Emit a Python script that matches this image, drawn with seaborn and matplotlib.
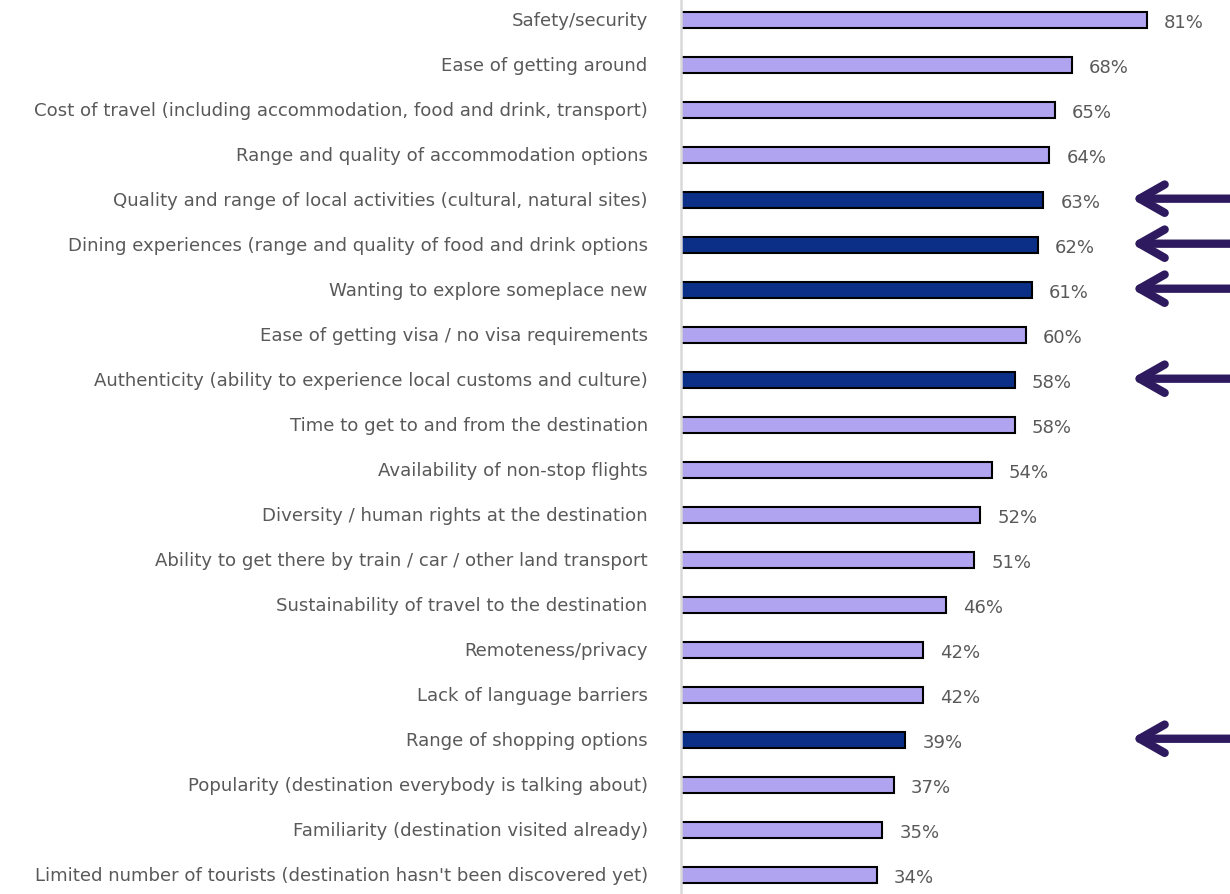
import matplotlib
matplotlib.use('Agg')
import matplotlib.pyplot as plt
import matplotlib.transforms as mtransforms
import seaborn as sns
import pandas as pd

# Chart data (top to bottom)
categories = [
    'Safety/security',
    'Ease of getting around',
    'Cost of travel (including accommodation, food and drink, transport)',
    'Range and quality of accommodation options',
    'Quality and range of local activities (cultural, natural sites)',
    'Dining experiences (range and quality of food and drink options',
    'Wanting to explore someplace new',
    'Ease of getting visa / no visa requirements',
    'Authenticity (ability to experience local customs and culture)',
    'Time to get to and from the destination',
    'Availability of non-stop flights',
    'Diversity / human rights at the destination',
    'Ability to get there by train / car / other land transport',
    'Sustainability of travel to the destination',
    'Remoteness/privacy',
    'Lack of language barriers',
    'Range of shopping options',
    'Popularity (destination everybody is talking about)',
    'Familiarity (destination visited already)',
    "Limited number of tourists (destination hasn't been discovered yet)",
]
values = [81, 68, 65, 64, 63, 62, 61, 60, 58, 58, 54, 52, 51, 46, 42, 42, 39, 37, 35, 34]
highlighted = [
    'Quality and range of local activities (cultural, natural sites)',
    'Dining experiences (range and quality of food and drink options',
    'Wanting to explore someplace new',
    'Authenticity (ability to experience local customs and culture)',
    'Range of shopping options',
]

df = pd.DataFrame({'Factor': categories, 'Share': values})
df['Group'] = ['hi' if c in highlighted else 'base' for c in categories]

sns.set_theme(style='white')
plt.rcParams['font.family'] = ['DejaVu Sans']

fig = plt.figure(figsize=(12.3, 8.95), dpi=100)
ax = fig.add_axes([681 / 1230, 0, 1 - 681 / 1230, 1])

sns.barplot(data=df, x='Share', y='Factor', hue='Group', order=categories,
            palette={'base': '#b0a4f0', 'hi': '#0b2f87'}, dodge=False,
            saturation=1, width=0.36, edgecolor='black', linewidth=1.5,
            legend=False, ax=ax)

ax.set_xlim(0, (1230 - 681) / 5.75)
ax.set_ylim(19.42, -0.467)
ax.set_xlabel('')
ax.set_ylabel('')
ax.set_xticks([])
ax.tick_params(axis='y', length=0, pad=24, labelsize=13.1, labelcolor='#595959')

# nudge category labels up a touch
lift = mtransforms.ScaledTranslation(0, 2 / 100, fig.dpi_scale_trans)
for lab in ax.get_yticklabels():
    lab.set_transform(lab.get_transform() + lift)

for s in ['top', 'right', 'bottom']:
    ax.spines[s].set_visible(False)
ax.spines['left'].set_color('#d9d9d9')
ax.spines['left'].set_linewidth(1.8)

# Value labels
for i, v in enumerate(values):
    ax.text(v + 3.0, i + 0.05, f'{v}%', va='center', ha='left',
            fontsize=13, color='#595959')

# Arrows pointing at highlighted factors
for c in highlighted:
    i = categories.index(c)
    ax.annotate('', xy=(78.3, i - 0.03), xytext=(95.6, i - 0.03),
                arrowprops=dict(arrowstyle='->,head_length=1.5,head_width=0.85',
                                color='#2e1a5e', lw=6, capstyle='round',
                                joinstyle='round', shrinkA=0, shrinkB=0),
                annotation_clip=False)

fig.savefig('out.png', dpi=100)
